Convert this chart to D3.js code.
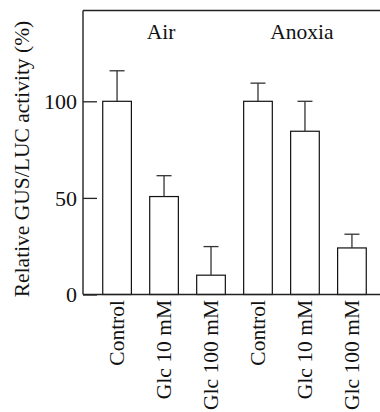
<!DOCTYPE html>
<html>
<head>
<meta charset="utf-8">
<script src="https://cdn.jsdelivr.net/npm/d3@7"></script>
<style>
  body { margin: 0; background: #fff; }
  text { font-family: "Liberation Serif", "DejaVu Serif", serif; fill: #111; }
</style>
</head>
<body>
<svg id="chart" width="380" height="412"></svg>
<script>
const categories = ["Control", "Glc 10 mM", "Glc 100 mM", "Control", "Glc 10 mM", "Glc 100 mM"];
const groups = ["Air", "Anoxia"];
const values = [100, 50.7, 10, 100, 84.5, 24.1];
const errors = [15.8, 10.8, 14.8, 9.4, 15.5, 7.1];
const yTicks = [0, 50, 100];

const svg = d3.select("#chart");
const plotLeft = 83, plotTop = 10.5, plotBottom = 294.5, plotRight = 380;

const keys = categories.map((c, i) => i);
const x = d3.scaleBand().domain(keys).range([plotLeft, 386]).paddingInner(0.39).paddingOuter(0.42);
const y = d3.scaleLinear().domain([0, 147]).range([plotBottom, plotTop]);

// frame: left axis and top line
const frame = svg.append("g").attr("stroke", "#222").attr("stroke-width", 1.4);
frame.append("line").attr("x1", plotLeft).attr("x2", plotLeft).attr("y1", plotTop).attr("y2", plotBottom);
frame.append("line").attr("x1", plotLeft).attr("x2", plotRight).attr("y1", plotTop).attr("y2", plotTop);

// y axis, ticks pointing inward
const yAxis = svg.append("g")
  .attr("transform", "translate(" + plotLeft + ",0)")
  .call(d3.axisRight(y).tickValues(yTicks).tickSize(14).tickFormat(d3.format("d")));
yAxis.select(".domain").remove();
yAxis.selectAll(".tick line").attr("stroke", "#222").attr("stroke-width", 1.3);
yAxis.selectAll(".tick text")
  .attr("x", -6).attr("dy", "0.34em")
  .attr("text-anchor", "end")
  .attr("fill", "#111")
  .style("font-size", "22px")
  .style("font-family", "'Liberation Serif', serif");

// bars
svg.append("g").selectAll("rect")
  .data(values)
  .enter().append("rect")
  .attr("x", (d, i) => x(i))
  .attr("y", d => y(d))
  .attr("width", x.bandwidth())
  .attr("height", d => plotBottom - y(d))
  .attr("fill", "#fff")
  .attr("stroke", "#111")
  .attr("stroke-width", 1.2);

// error bars (upper only)
const err = svg.append("g").attr("stroke", "#333").attr("stroke-width", 1.3);
values.forEach((v, i) => {
  const cx = x(i) + x.bandwidth() / 2;
  err.append("line").attr("x1", cx).attr("x2", cx).attr("y1", y(v)).attr("y2", y(v + errors[i]));
  err.append("line").attr("x1", cx - 7.5).attr("x2", cx + 7.5)
    .attr("y1", y(v + errors[i])).attr("y2", y(v + errors[i]));
});

// baseline
svg.append("line").attr("x1", plotLeft).attr("x2", plotRight).attr("y1", plotBottom).attr("y2", plotBottom)
  .attr("stroke", "#222").attr("stroke-width", 1.4);

// category labels, rotated
svg.append("g").selectAll("text")
  .data(categories)
  .enter().append("text")
  .attr("transform", (d, i) => "translate(" + (x(i) + x.bandwidth() / 2) + ",300) rotate(-90)")
  .attr("dy", "0.33em")
  .attr("text-anchor", "end")
  .style("font-size", "21.5px")
  .text(d => d);

// group labels
svg.append("g").selectAll("text")
  .data(groups)
  .enter().append("text")
  .attr("x", (d, i) => x(i * 3 + 1) + x.bandwidth() / 2 - 3)
  .attr("y", 39)
  .attr("text-anchor", "middle")
  .style("font-size", "21.5px")
  .text(d => d);

// y label
svg.append("text")
  .attr("transform", "translate(29,159) rotate(-90)")
  .attr("text-anchor", "middle")
  .style("font-size", "21.5px")
  .text("Relative GUS/LUC activity (%)");
</script>
</body>
</html>
